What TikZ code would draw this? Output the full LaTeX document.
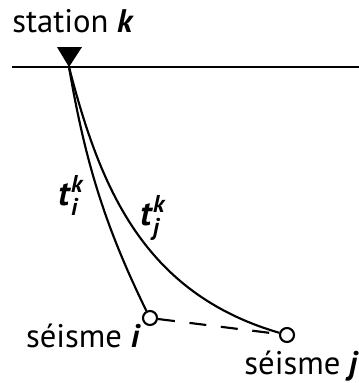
\documentclass[tikz,border=0pt]{standalone}
\usepackage{amsmath}
\usepackage{fontspec}
\setmainfont{PT Sans}
\usepackage{tikz}
\usetikzlibrary{positioning}

\newcommand{\bi}[1]{\textbf{\textit{#1}}}
\newcommand{\trav}[2]{\bi{t}$^{\bi{#2}}_{\bi{#1}}$}

\begin{document}
\begin{tikzpicture}[x=0.75pt, y=-0.75pt, font=\fontsize{24.5}{28}\selectfont,
  event/.style={circle, draw, line width=1.6pt, fill=white, inner sep=0pt, minimum size=10.5pt},
  ray/.style={line width=1.6pt}]
\useasboundingbox (0,0) rectangle (359,383);
% surface and station
\coordinate (hl) at (12,67);
\coordinate (hr) at (359,67);
\coordinate (sta) at (69,67);
\draw[line width=1.8pt] (hl) -- (hr);
\fill (57,47) -- (82,47) -- (sta) -- cycle;
\node[anchor=base west, inner sep=0pt] (stalab) at (12,32) {station \bi{k}};
% events
\node[event] (evi) at (150,318) {};
\node[event] (evj) at (287,335) {};
\node[anchor=base east, inner sep=0pt] (labi) at (141,347) {séisme \bi{i}};
\node[anchor=base east, inner sep=0pt] (labj) at (359,374) {séisme \bi{j}};
% rays
\draw[ray] (sta) .. controls (86,167) and (107,230) .. (evi.117);
\draw[ray] (sta) .. controls (100,187) and (143,293) .. (evj.164);
\draw[ray, dash pattern=on 12.75pt off 11pt] (evi) -- (evj);
% travel times
\node[anchor=base west, inner sep=0pt, font=\fontsize{26}{30}\selectfont] (ti) at (58,205) {\trav{i}{k}};
\node[anchor=base west, inner sep=0pt, font=\fontsize{26}{30}\selectfont] (tj) at (140,225) {\trav{j}{k}};
\end{tikzpicture}
\end{document}
